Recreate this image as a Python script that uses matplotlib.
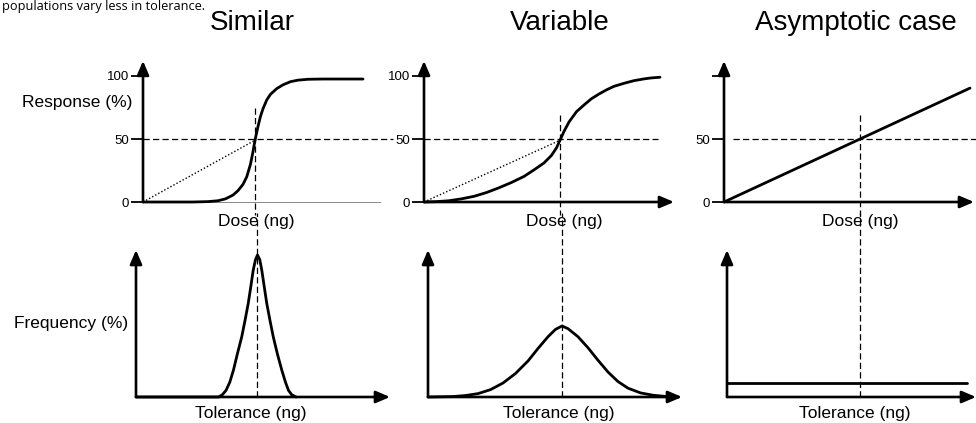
import matplotlib
matplotlib.use("Agg")
import matplotlib.pyplot as plt

plt.rcParams['font.family'] = ['Liberation Sans', 'DejaVu Sans']

# ---- data (arbitrary dose / tolerance units) ----
titles = ["Similar", "Variable", "Asymptotic case"]

similar_dose = [0, 2.0, 2.6, 3.0, 3.3, 3.6, 3.8, 4.0, 4.15, 4.3, 4.4, 4.48, 4.6, 4.7,
                4.8, 4.95, 5.1, 5.35, 5.6, 5.9, 6.2, 6.6, 7.2, 8.8]
similar_resp = [0, 0, 0.3, 1, 2.5, 5.5, 9, 14, 20, 30, 40, 49, 60, 68,
                74, 81, 85.5, 90, 93, 95.5, 96.7, 97.4, 97.6, 97.6]

variable_dose = [0, 0.5, 1.0, 1.5, 2.0, 2.5, 3.0, 3.5, 4.0, 4.4, 4.8, 5.1, 5.3, 5.44,
                 5.6, 5.8, 6.1, 6.4, 6.7, 7.0, 7.3, 7.6, 8.0, 8.4, 8.8, 9.1, 9.44]
variable_resp = [0, 0.3, 1, 2.5, 4.5, 7.5, 11.3, 15.5, 20.3, 25.5, 31, 37, 43, 49,
                 56, 63.5, 71.7, 77, 82, 85.7, 89, 91.8, 94.2, 96.3, 97.7, 98.5, 99]

asym_dose = [0, 9.84]
asym_resp = [0, 90.4]

similar_tol = [0, 3.3, 3.45, 3.6, 3.75, 3.9, 4.05, 4.23, 4.36, 4.49, 4.6, 4.69, 4.78, 4.86,
               4.95, 5.03, 5.13, 5.23, 5.36, 5.49, 5.66, 5.83, 5.98, 6.1, 6.23, 6.4]
similar_freq = [0, 0, 1.5, 4.5, 10, 18.4, 29, 41, 52, 63.7, 76, 86.4, 93.5, 96.6,
                93.5, 86.4, 75, 63.7, 52, 41, 29, 18.4, 10, 4.5, 1.5, 0]

variable_tol = [0, 1.0, 1.5, 2.0, 2.5, 3.0, 3.5, 4.0, 4.4, 4.8, 5.1, 5.36, 5.6, 6.0,
                6.4, 6.8, 7.2, 7.6, 8.0, 8.5, 9.0, 9.5, 10.0]
variable_freq = [0, 0.3, 1, 2.3, 5, 9.5, 16, 24.5, 33, 41, 46, 48.3, 46.5, 41,
                 33.5, 25, 17, 10.5, 6, 2.8, 1.2, 0.4, 0]

asym_tol = [0, 9.6]
asym_freq = [9.5, 9.5]

ed50 = [4.48, 5.44, 5.44]          # dose giving 50 % response
tol_mid = [4.84, 5.36, 5.32]       # centre of tolerance distribution
dose_curves = [(similar_dose, similar_resp), (variable_dose, variable_resp), (asym_dose, asym_resp)]
tol_curves = [(similar_tol, similar_freq), (variable_tol, variable_freq), (asym_tol, asym_freq)]

# ---- layout (pixels) ----
W, H = 976, 423
PX_PER_UNIT = 25.0
fig = plt.figure(figsize=(W / 100, H / 100), dpi=100)


def add_px_axes(left, top, width, height):
    return fig.add_axes([left / W, 1 - (top + height) / H, width / W, height / H])


def arrow(ax, start, end):
    ax.annotate('', xy=end, xytext=start, xycoords='axes fraction',
                arrowprops=dict(arrowstyle='-|>,head_length=0.7,head_width=0.3',
                                mutation_scale=12, lw=1.9, color='black',
                                shrinkA=0, shrinkB=0), annotation_clip=False)


dash = (0, (5, 2.6))
top_left = [143, 424, 724]
top_width = [250, 250, 250]
bot_left = [136, 428, 727]
bot_width = [254, 254, 249]
hline_end = [10.0, 9.36, 10.1]
hline_start = [0, 0, 0.36]
vline_top = [74.6, 69, 69]

for i in range(3):
    # dose-response panel
    ax = add_px_axes(top_left[i], 202 - 112 * 1.26, top_width[i], 112 * 1.26)
    ax.set_xlim(0, top_width[i] / PX_PER_UNIT)
    ax.set_ylim(0, 112)
    for s in ax.spines.values():
        s.set_visible(False)
    ax.set_xticks([])
    ax.set_yticks([0, 50, 100])
    ax.set_yticklabels(["0", "50", "100" if i < 2 else ""])
    ax.tick_params(axis='y', length=9, width=1.3, pad=1, labelsize=9.5, color='black')
    arrow(ax, (0, 0), (0, 1))
    if i == 0:
        ax.plot([0, 9.48], [0, 0], color='#888888', lw=0.7, clip_on=False)
    else:
        arrow(ax, (0, 0), (1, 0))
    ax.plot([hline_start[i], hline_end[i]], [50, 50], color='black', lw=0.9, ls=dash, clip_on=False)
    ax.plot([ed50[i], ed50[i]], [vline_top[i], -10], color='black', lw=0.9, ls=dash, clip_on=False)
    if i < 2:
        ax.plot([0, ed50[i]], [0, 49], color='black', lw=1.0, ls=(0, (1, 1.5)), clip_on=False)
    x, y = dose_curves[i]
    ax.plot(x, y, color='black', lw=2.0, clip_on=False, solid_capstyle='round')

    # tolerance panel
    bx = add_px_axes(bot_left[i], 250, bot_width[i], 147)
    bx.set_xlim(0, bot_width[i] / PX_PER_UNIT)
    bx.set_ylim(0, 100)
    bx.axis('off')
    arrow(bx, (0, 0), (0, 1))
    arrow(bx, (0, 0), (1, 0))
    bx.plot([tol_mid[i], tol_mid[i]], [0, 125], color='black', lw=0.9, ls=dash, clip_on=False)
    x, y = tol_curves[i]
    bx.plot(x, y, color='black', lw=2.0, clip_on=False, solid_capstyle='round')

    # text
    cx = [252, 560, 856][i]
    fig.text(cx / W, 1 - 23 / H, titles[i], ha='center', va='center', fontsize=20)
    fig.text((cx + 4) / W, 1 - 221 / H, "Dose (ng)", ha='center', va='center', fontsize=12.5)
    fig.text((cx - 1) / W, 1 - 413 / H, "Tolerance (ng)", ha='center', va='center', fontsize=12.5)

fig.text(132 / W, 1 - 103 / H, "Response (%)", ha='right', va='center', fontsize=12.5)
fig.text(128 / W, 1 - 323 / H, "Frequency (%)", ha='right', va='center', fontsize=12.5)
fig.text(2 / W, 1 - 10 / H, "populations vary less in tolerance.", ha='left', va='baseline',
         fontsize=9.2, family=['Open Sans', 'DejaVu Sans'])

fig.savefig("out.png", dpi=100, facecolor='white')
